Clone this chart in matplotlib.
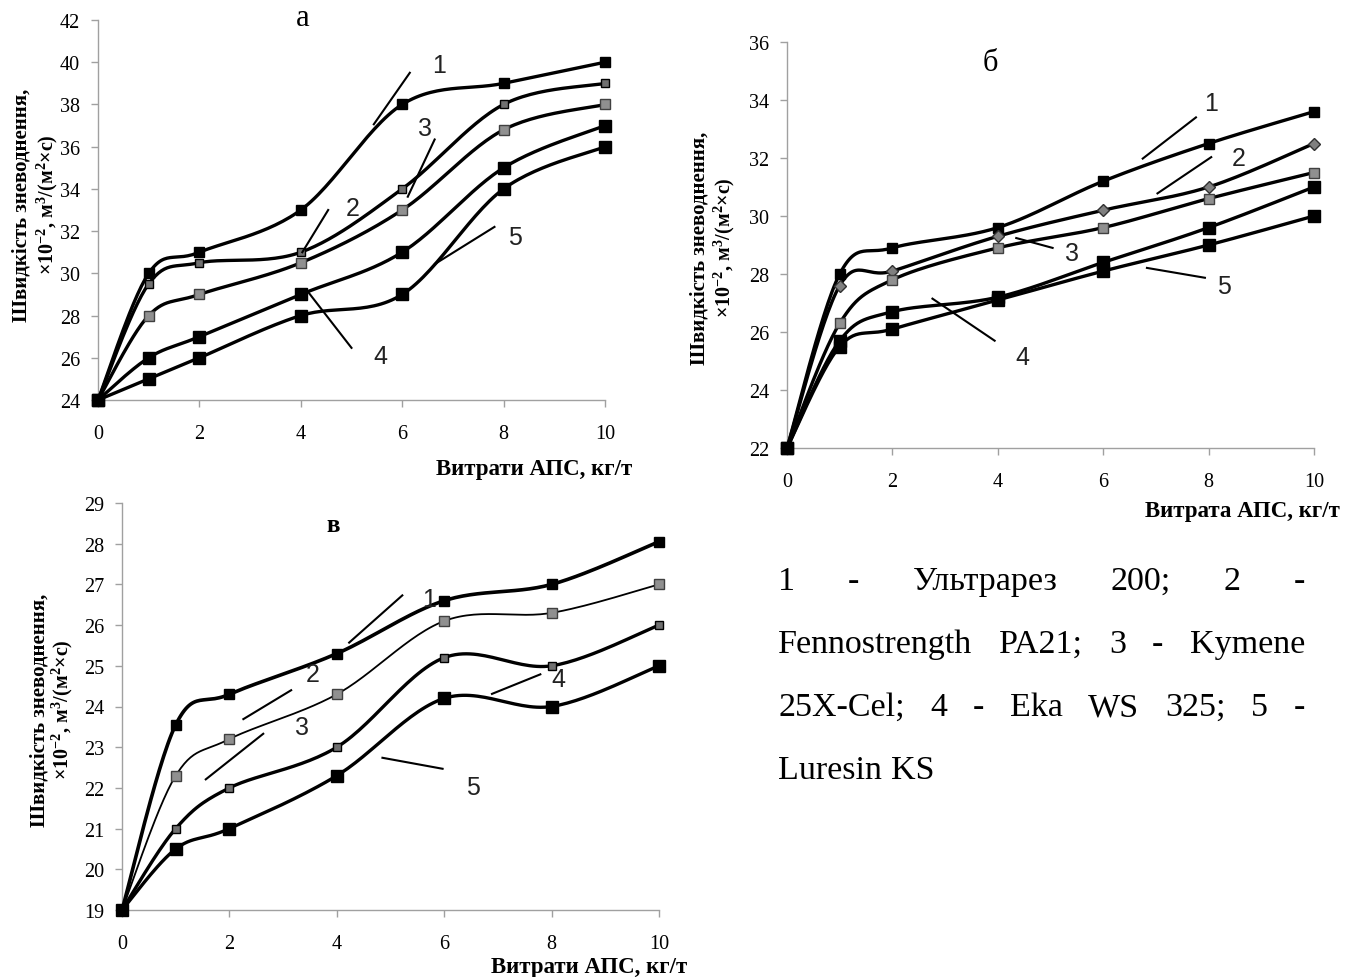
import numpy as np
import matplotlib
matplotlib.use("Agg")
from matplotlib import pyplot as plt

plt.rcParams['font.family'] = ['Liberation Serif', 'DejaVu Serif']
plt.rcParams['mathtext.fontset'] = 'custom'
plt.rcParams['mathtext.rm'] = 'Liberation Serif'
plt.rcParams['mathtext.bf'] = 'Liberation Serif:bold'
plt.rcParams['mathtext.default'] = 'bf'

W, H = 1352, 978

x_vals = [0, 1, 2, 4, 6, 8, 10]

# panel а
a_series = [
    [24, 30, 31, 33, 38, 39, 40],
    [24, 29.5, 30.5, 31, 34, 38, 39],
    [24, 28, 29, 30.5, 33, 36.8, 38],
    [24, 26, 27, 29, 31, 35, 37],
    [24, 25, 26, 28, 29, 34, 36],
]
# panel б
b_series = [
    [22, 28, 28.9, 29.6, 31.2, 32.5, 33.6],
    [22, 27.6, 28.1, 29.3, 30.2, 31, 32.5],
    [22, 26.3, 27.8, 28.9, 29.6, 30.6, 31.5],
    [22, 25.7, 26.7, 27.2, 28.4, 29.6, 31],
    [22, 25.5, 26.1, 27.1, 28.1, 29, 30],
]
# panel в
c_series = [
    [19, 23.55, 24.3, 25.3, 26.6, 27, 28.05],
    [19, 22.3, 23.2, 24.3, 26.1, 26.3, 27],
    [19, 21, 22, 23, 25.2, 25, 26],
    [19, 20.5, 21, 22.3, 24.2, 24, 25],
]

# leader lines: (x0, y0, x1, y1, label_x, label_y, label)
a_leaders = [
    (5.44, 37.06, 6.15, 39.5, 6.73, 39.85, '1'),
    (4.03, 31.0, 4.54, 33.0, 5.02, 33.1, '2'),
    (6.11, 33.63, 6.64, 36.34, 6.45, 36.9, '3'),
    (4.15, 29.1, 5.0, 26.47, 5.56, 26.07, '4'),
    (6.65, 30.45, 7.82, 32.2, 8.23, 31.7, '5'),
]
b_leaders = [
    (6.75, 31.98, 7.76, 33.4, 8.05, 33.9, '1'),
    (7.03, 30.78, 8.05, 32.03, 8.58, 32.0, '2'),
    (4.35, 29.24, 5.04, 28.9, 5.41, 28.73, '3'),
    (2.76, 27.15, 3.94, 25.7, 4.47, 25.14, '4'),
    (6.83, 28.21, 7.93, 27.87, 8.29, 27.59, '5'),
]
c_leaders = [
    (4.23, 25.57, 5.22, 26.73, 5.71, 26.63, '1'),
    (2.26, 23.69, 3.15, 24.4, 3.56, 24.79, '2'),
    (1.56, 22.21, 2.63, 23.33, 3.35, 23.5, '3'),
    (6.89, 24.31, 7.79, 24.79, 8.13, 24.67, '4'),
    (4.85, 22.74, 5.97, 22.47, 6.53, 22.03, '5'),
]

legend_lines = [
    ['1', '-', 'Ультрарез', '200;', '2', '-'],
    ['Fennostrength', 'PA21;', '3', '-', 'Kymene'],
    ['25X-Cel;', '4', '-', 'Eka', 'WS', '325;', '5', '-'],
    ['Luresin', 'KS'],
]


def smooth(xs, ys, n=30):
    # Catmull-Rom through the points, like the spreadsheet "smoothed line"
    p = np.column_stack([xs, ys]).astype(float)
    p = np.vstack([p[0], p, p[-1]])
    out = []
    t = np.linspace(0, 1, n)
    for i in range(1, len(p) - 2):
        p0, p1, p2, p3 = p[i - 1], p[i], p[i + 1], p[i + 2]
        c1 = p1 + (p2 - p0) / 6
        c2 = p2 - (p3 - p1) / 6
        seg = ((1 - t) ** 3)[:, None] * p1 + (3 * (1 - t) ** 2 * t)[:, None] * c1 \
            + (3 * (1 - t) * t ** 2)[:, None] * c2 + (t ** 3)[:, None] * p2
        out.append(seg)
    s = np.vstack(out)
    return s[:, 0], s[:, 1]


def px_axes(fig, l, r, t, b):
    return fig.add_axes([l / W, 1 - b / H, (r - l) / W, (b - t) / H])


def style(ax, ylim, yticks):
    ax.set_xlim(0, 10)
    ax.set_ylim(*ylim)
    ax.set_xticks([0, 2, 4, 6, 8, 10])
    ax.set_yticks(yticks)
    for s in ['top', 'right']:
        ax.spines[s].set_visible(False)
    for s in ['left', 'bottom']:
        ax.spines[s].set_color('#a0a0a0')
        ax.spines[s].set_linewidth(1.0)
    ax.tick_params(colors='#a0a0a0', labelcolor='black', length=5, width=1,
                   labelsize=14.5)
    ax.tick_params(axis='x', pad=12)
    ax.tick_params(axis='y', pad=8)
    ax.patch.set_alpha(0)


mk_styles = [
    dict(marker='s', ms=7, mfc='black', mec='black'),
    dict(marker='s', ms=6, mfc='#707070', mec='black'),
    dict(marker='s', ms=7, mfc='#909090', mec='#404040'),
    dict(marker='s', ms=8, mfc='black', mec='black'),
    dict(marker='s', ms=8, mfc='black', mec='black'),
]


def draw(ax, series, leaders, lws=None, mks=None):
    for i, ys in enumerate(series):
        lw = 2.4 if lws is None else lws[i]
        sx, sy = smooth(x_vals, ys)
        ax.plot(sx, sy, color='black', lw=lw, zorder=3, clip_on=False)
        m = mk_styles[i] if mks is None else mks[i]
        ax.plot(x_vals, ys, ls='none', zorder=4, clip_on=False, **m)
    for x0, y0, x1, y1, lx, ly, lab in leaders:
        ax.plot([x0, x1], [y0, y1], color='black', lw=1.5, zorder=5)
        ax.text(lx, ly, lab, fontsize=18, family=['Liberation Sans', 'DejaVu Sans'],
                ha='center', va='center', color='#222222')


fig = plt.figure(figsize=(W / 100, H / 100), dpi=100)

ax_a = px_axes(fig, 98, 605, 21, 401)
style(ax_a, (24, 42), range(24, 43, 2))
draw(ax_a, a_series, a_leaders)
ax_a.text(4.03, 42.1, 'а', fontsize=22, ha='center', va='center')

ax_b = px_axes(fig, 787, 1314, 43, 449)
style(ax_b, (22, 36), range(22, 37, 2))
b_mk = list(mk_styles)
b_mk[1] = dict(marker='D', ms=6, mfc='#808080', mec='#303030')
draw(ax_b, b_series, b_leaders, mks=b_mk)
ax_b.text(3.86, 35.3, 'б', fontsize=22, ha='center', va='center')

ax_c = px_axes(fig, 122, 659, 504, 911)
style(ax_c, (19, 29), range(19, 30))
draw(ax_c, c_series, c_leaders, lws=[2.6, 1.3, 2.4, 2.4],
     mks=[mk_styles[0], mk_styles[2], mk_styles[1], mk_styles[3]])
ax_c.text(3.94, 28.47, 'в', fontsize=18, fontweight='bold', ha='center', va='center')

# axis titles
ylab1 = 'Швидкість зневоднення,'
ylab2 = '×10$^{-2}$, м$^3$/(м$^2$×с)'
for (x1, x2, yc) in [(22, 47, 205), (700, 724, 248), (40, 62, 710)]:
    fig.text(x1 / W, 1 - yc / H, ylab1, rotation=90, fontsize=15, fontweight='bold',
             ha='center', va='center')
    fig.text(x2 / W, 1 - yc / H, ylab2, rotation=90, fontsize=14.5, fontweight='bold',
             ha='center', va='center')

for (xr, yc, lab) in [(632, 470, 'Витрати АПС, кг/т'), (1340, 512, 'Витрата АПС, кг/т'),
                      (687, 968, 'Витрати АПС, кг/т')]:
    fig.text(xr / W, 1 - yc / H, lab, fontsize=16.5, fontweight='bold',
             ha='right', va='center')

# justified legend text
left, right = 778, 1305
line_y = [582, 645, 708, 771]
fig.canvas.draw()
renderer = fig.canvas.get_renderer()
for k, words in enumerate(legend_lines):
    texts = [fig.text(0, 1 - line_y[k] / H, w, fontsize=24.5, ha='left', va='center')
             for w in words]
    widths = [t.get_window_extent(renderer).width for t in texts]
    if k == len(legend_lines) - 1:
        gap = 9
    else:
        gap = (right - left - sum(widths)) / (len(words) - 1)
    x = left
    for t, w in zip(texts, widths):
        t.set_x(x / W)
        x += w + gap

fig.savefig('out.png', dpi=100)
